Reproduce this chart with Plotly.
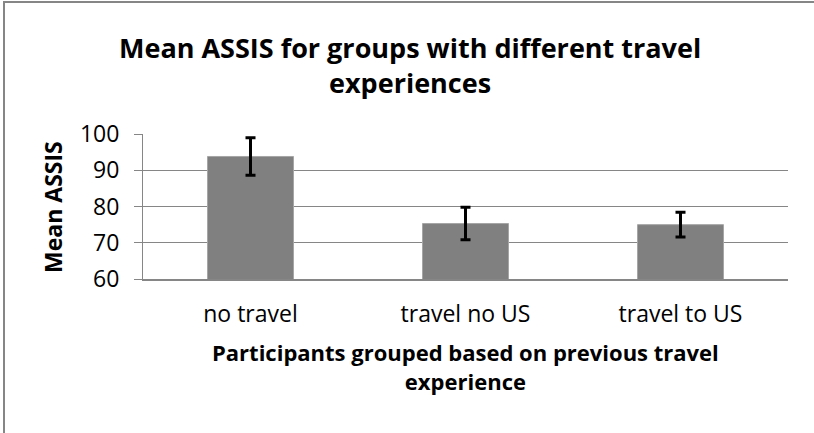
import plotly.graph_objects as go

categories = ["no travel", "travel no US", "travel to US"]
mean_assis = [93.8, 75.3, 75.0]
error_sd = [5.2, 4.5, 3.4]
y_ticks = [60, 70, 80, 90, 100]

W, H = 814, 433
L, R, T, B = 143, 26, 134, 154
pw, ph = W - L - R, H - T - B

def px_x(p):
    return (p - L) / pw

def px_y(p):
    return (H - B - p) / ph

FONT = "Open Sans"

fig = go.Figure()
fig.add_trace(go.Bar(
    x=categories, y=mean_assis,
    marker=dict(color="#808080", line=dict(color="#a6a6a6", width=1)),
    error_y=dict(type="data", array=error_sd, visible=True,
                 color="#000000", thickness=3, width=5),
))

fig.update_layout(
    width=W, height=H,
    margin=dict(l=L, r=R, t=T, b=B),
    paper_bgcolor="white", plot_bgcolor="white",
    showlegend=False,
    bargap=0.6,
    font=dict(family=FONT, color="black", size=20),
    xaxis=dict(
        showgrid=False, showline=True, linecolor="#868686", linewidth=2,
        ticks="", tickfont=dict(size=23, family=FONT),
        ticklabelstandoff=13,
    ),
    yaxis=dict(
        range=[60, 100], tickvals=y_ticks, showgrid=True,
        gridcolor="#868686", gridwidth=1,
        showline=True, linecolor="#868686", linewidth=1,
        ticks="outside", ticklen=8, tickcolor="#868686",
        tickfont=dict(size=23, family=FONT), ticklabelstandoff=10,
        zeroline=False,
    ),
    annotations=[
        dict(text="<b>Mean ASSIS for groups with different travel<br>experiences</b>",
             xref="paper", yref="paper", x=px_x(410), y=px_y(64.5),
             xanchor="center", yanchor="middle", showarrow=False,
             font=dict(size=27, family=FONT)),
        dict(text="<b>Participants grouped based on previous travel<br>experience</b>",
             xref="paper", yref="paper", x=px_x(465), y=px_y(366),
             xanchor="center", yanchor="middle", showarrow=False,
             font=dict(size=22, family=FONT)),
        dict(text="<b>Mean ASSIS</b>", textangle=-90,
             xref="paper", yref="paper", x=px_x(53), y=px_y(207),
             xanchor="center", yanchor="middle", showarrow=False,
             font=dict(size=23, family=FONT)),
    ],
    shapes=[
        dict(type="rect", xref="paper", yref="paper",
             x0=px_x(4), x1=px_x(830), y0=px_y(450), y1=px_y(2),
             line=dict(color="#868686", width=2), fillcolor="rgba(0,0,0,0)",
             layer="below"),
    ],
)

fig.write_html("out.html", config={"displayModeBar": False},
               post_script="document.body.style.margin='0';"
                           "document.body.style.overflow='hidden';"
                           "document.documentElement.style.overflow='hidden';")
